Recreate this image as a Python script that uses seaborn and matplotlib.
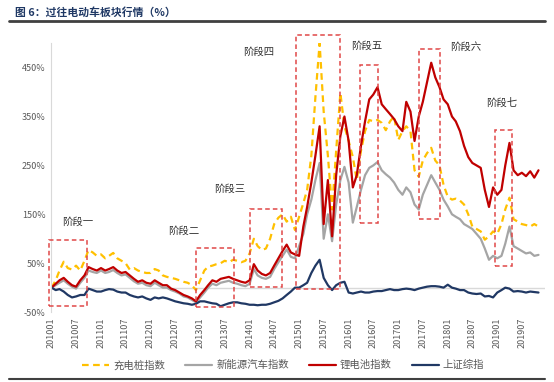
import pandas as pd
import matplotlib.pyplot as plt
import matplotlib.dates as mdates
from matplotlib.patches import Rectangle
import seaborn as sns

# 数据（月度，201001 - 201911，累计涨跌幅 %）

months = pd.date_range("2010-01-01", periods=119, freq="MS")

charging_pile = [
    0, 15, 35, 53, 40, 37, 45, 35, 55, 77, 72, 65,
    68, 60, 65, 71, 60, 55, 50, 37, 40, 35, 32, 30,
    30, 38, 35, 25, 22, 20, 18, 15, 12, 10, 5, -5,
    15, 35, 43, 45, 48, 50, 55, 52, 57, 55, 52, 55,
    70, 100, 85, 77, 80, 100, 130, 143, 150, 135, 145, 118,
    145, 173, 200, 270, 390, 500, 360, 270, 160, 280, 398, 330,
    300, 267, 220, 280, 320, 343, 340, 343, 337, 322, 340, 350,
    302, 320, 330, 320, 240, 227, 260, 275, 286, 260, 250, 210,
    186, 180, 182, 178, 170, 150, 125, 120, 115, 98, 105, 115,
    110, 130, 160, 184, 140, 135, 130, 128, 125, 130, 125,
]

nev = [
    0, 5, 10, 15, 8, 2, -2, 10, 20, 35, 32, 30,
    35, 30, 32, 36, 30, 25, 27, 20, 13, 8, 10, 5,
    3, 10, 5, 0, 0, -5, -8, -12, -18, -20, -25, -30,
    -20, -10, 0, 8, 5, 10, 12, 14, 10, 8, 5, 3,
    8, 38, 25, 20, 18, 22, 38, 52, 65, 78, 63, 60,
    85, 110, 150, 180, 220, 255, 100, 150, 95, 170, 220, 247,
    215, 133, 165, 200, 230, 245, 250, 257, 240, 232, 225, 215,
    200, 190, 205, 195, 170, 160, 190, 210, 230, 215, 200, 180,
    166, 150, 145, 140, 130, 125, 120, 110, 100, 80, 57, 65,
    60, 65, 90, 125, 85, 80, 75, 70, 72, 65, 67,
]

lithium = [
    0, 8, 15, 20, 12, 5, 2, 15, 25, 42, 38, 35,
    40, 35, 38, 42, 35, 30, 32, 25, 18, 12, 15, 10,
    8, 15, 10, 5, 5, -2, -5, -10, -15, -18, -22, -28,
    -15, -5, 5, 15, 12, 18, 20, 22, 18, 15, 12, 10,
    15, 48, 35, 28, 25, 30, 45, 60, 75, 88, 72, 68,
    65, 125, 165, 215, 270, 330, 130, 220, 105, 230, 310, 350,
    300, 205, 230, 290, 340, 385, 395, 410, 375, 365, 355, 345,
    330, 320, 380, 360, 300, 350, 380, 420, 460, 430, 410, 385,
    375, 350, 340, 320, 290, 267, 255, 250, 245, 200, 165, 205,
    190, 200, 250, 296, 240, 230, 235, 228, 238, 225, 240,
]

shanghai = [
    0, -5, -3, -8, -15, -20, -18, -15, -15, -2, -5, -8,
    -8, -5, -3, -4, -8, -10, -10, -15, -18, -20, -18, -22,
    -25, -20, -22, -20, -22, -25, -28, -30, -32, -33, -35, -33,
    -28, -28, -30, -32, -33, -38, -35, -32, -30, -30, -32, -33,
    -35, -35, -36, -35, -35, -33, -30, -27, -22, -15, -8, 0,
    0, 5, 10, 30, 45, 57, 20, 5, -5, 5, 10, 12,
    -10, -12, -10, -8, -10, -10, -8, -7, -7, -5, -3, -5,
    -5, -3, -2, -3, -5, -2, 0, 2, 3, 3, 2, 0,
    6, 0, -2, -5, -5, -10, -12, -13, -12, -18, -17, -20,
    -10, -5, 0, -2, -8, -7, -8, -10, -8, -9, -10,
]

series_names = ["充电桩指数", "新能源汽车指数", "锂电池指数", "上证综指"]

# 各阶段区间
stage_names = ["阶段一", "阶段二", "阶段三", "阶段四", "阶段五", "阶段六", "阶段七"]
stage_start = ["2009-12-16", "2012-12-04", "2014-01-07", "2014-12-10",
               "2016-03-25", "2017-06-04", "2018-12-16"]
stage_end = ["2010-09-22", "2013-09-04", "2014-08-28", "2015-11-01",
             "2016-08-07", "2017-11-07", "2019-04-19"]
stage_low = [-37, -39, 2, -2, 133, 141, 45]
stage_high = [98, 82, 161, 516, 455, 488, 322]

# 阶段标签位置
label_dates = ["2010-07-10", "2012-09-01", "2013-08-10", "2014-03-12",
               "2016-05-15", "2018-05-15", "2019-02-01"]
label_values = [135, 116, 202, 482, 494, 492, 378]

df = pd.DataFrame({
    "date": list(months) * 4,
    "value": charging_pile + nev + lithium + shanghai,
    "series": sum([[n] * len(months) for n in series_names], []),
})

sns.set_style("white")
plt.rcParams["font.family"] = ["Noto Sans CJK SC", "DejaVu Sans"]

palette = {
    "充电桩指数": "#FFC000",
    "新能源汽车指数": "#A5A5A5",
    "锂电池指数": "#C00000",
    "上证综指": "#203864",
}
dashes = {
    "充电桩指数": (3, 2),
    "新能源汽车指数": "",
    "锂电池指数": "",
    "上证综指": "",
}

fig = plt.figure(figsize=(5.54, 3.82), dpi=100)
ax = fig.add_axes([0.092, 0.183, 0.892, 0.704])

ax.axhline(0, color="#D9D9D9", lw=1, zorder=0)

sns.lineplot(
    data=df, x="date", y="value", hue="series", style="series",
    hue_order=series_names, style_order=series_names,
    palette=palette, dashes=dashes, linewidth=1.6, ax=ax,
)

for s, e, lo, hi in zip(stage_start, stage_end, stage_low, stage_high):
    x0 = mdates.date2num(pd.Timestamp(s))
    x1 = mdates.date2num(pd.Timestamp(e))
    ax.add_patch(Rectangle((x0, lo), x1 - x0, hi - lo, fill=False,
                           edgecolor="#E04848", linestyle=(0, (3, 2)),
                           linewidth=1.1, clip_on=False, zorder=5))

for name, d, v in zip(stage_names, label_dates, label_values):
    ax.text(pd.Timestamp(d), v, name, ha="center", va="center",
            fontsize=7.5, color="#333333")

ax.set_ylim(-50, 500)
ax.set_xlim(pd.Timestamp("2009-12-28"), pd.Timestamp("2019-12-20"))
ax.set_yticks([-50, 50, 150, 250, 350, 450])
ax.set_yticklabels([f"{t}%" for t in [-50, 50, 150, 250, 350, 450]],
                   fontsize=6.5, color="#595959")
ax.set_xticks(pd.date_range("2010-01-01", "2019-07-01", freq="6MS"))
ax.xaxis.set_major_formatter(mdates.DateFormatter("%Y%m"))
plt.setp(ax.get_xticklabels(), rotation=90, fontsize=6.5, color="#595959")
ax.tick_params(length=0, pad=4)
ax.set_xlabel("")
ax.set_ylabel("")

for side in ["top", "right", "bottom"]:
    ax.spines[side].set_visible(False)
ax.spines["left"].set_color("#D9D9D9")

handles, labels = ax.get_legend_handles_labels()
ax.legend(handles, labels, ncol=4, frameon=False, fontsize=7.5,
          loc="center", bbox_to_anchor=(0.47, -0.197), handlelength=2.6,
          handletextpad=0.4, columnspacing=1.9, labelcolor="#595959")

fig.text(0.027, 0.968, "图 6：过往电动车板块行情（%）", fontsize=7.8,
         fontweight="bold", color="#1F3864", va="center")
fig.add_artist(plt.Line2D([0.016, 0.984], [0.945, 0.945], color="#404040", lw=2))
fig.add_artist(plt.Line2D([0.016, 0.984], [0.008, 0.008], color="#404040", lw=1.5))

plt.savefig("out.png", dpi=100)
